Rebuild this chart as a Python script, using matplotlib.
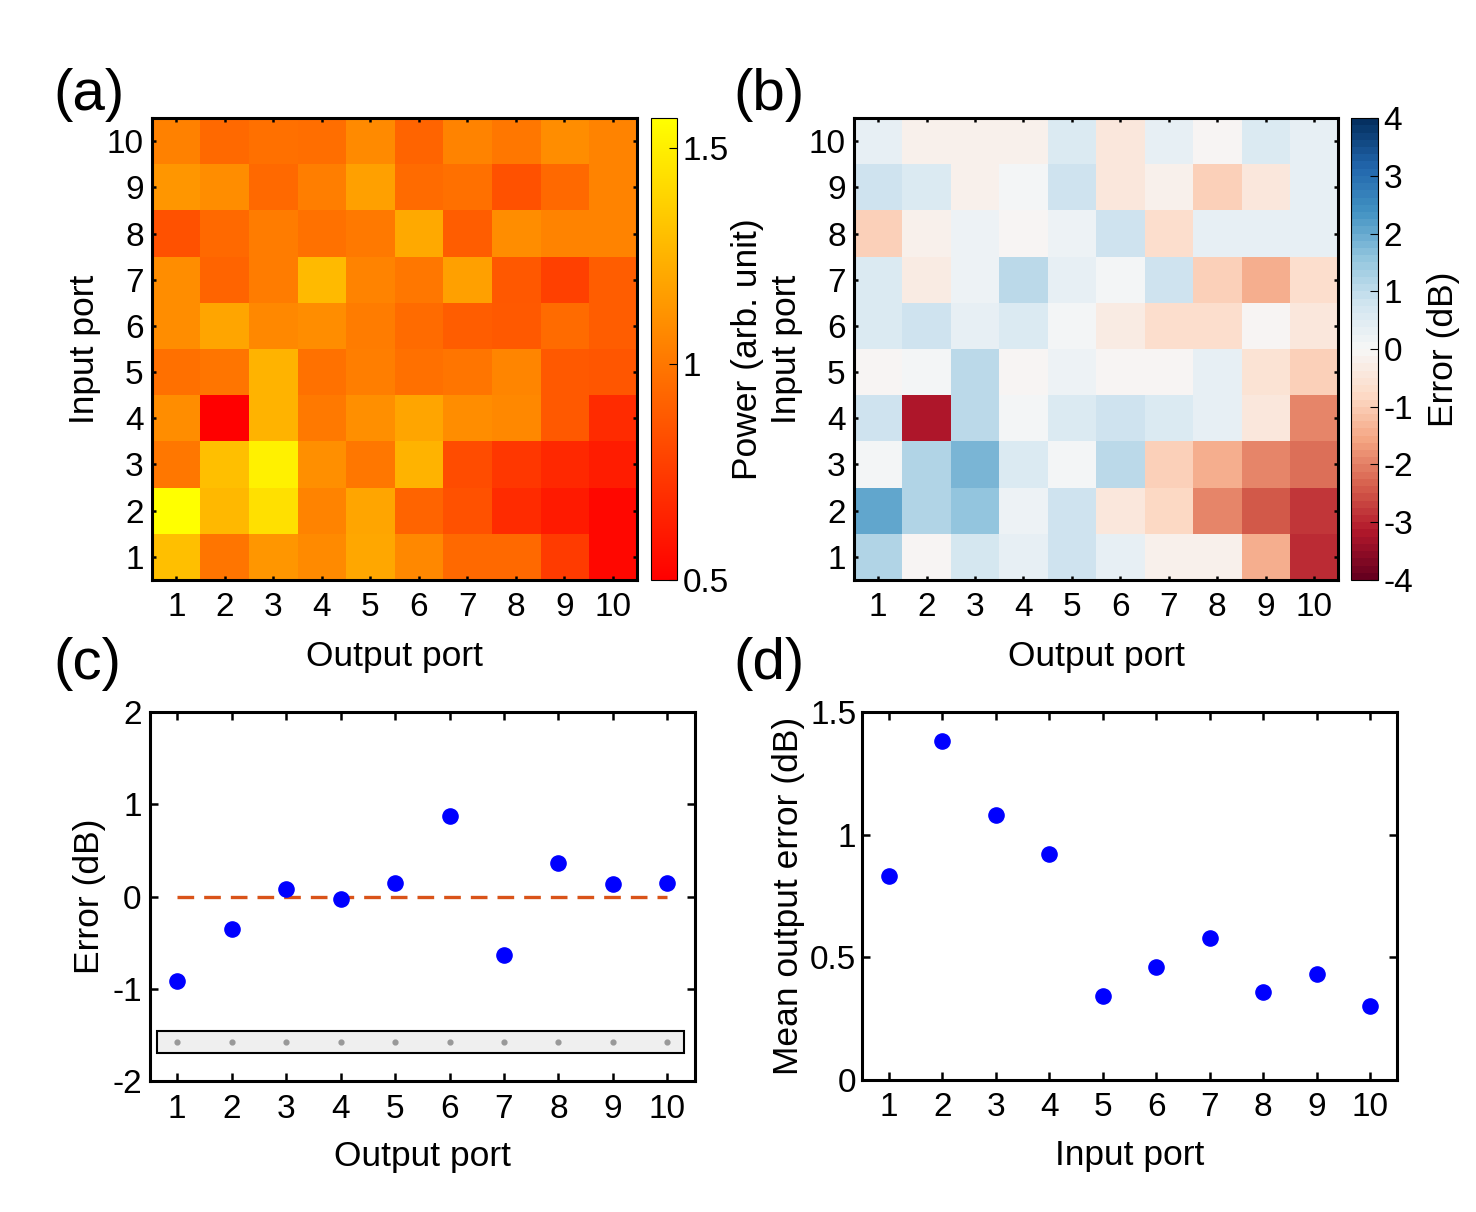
import numpy as np
import matplotlib
matplotlib.use("Agg")
import matplotlib.pyplot as plt
from matplotlib.patches import Rectangle

plt.rcParams['font.family'] = ['Liberation Sans', 'DejaVu Sans']
plt.rcParams['axes.unicode_minus'] = False

ports = np.arange(1, 11)

# (a) measured power, rows = input port 1..10, cols = output port 1..10
power = np.array([
    [1.30, 0.99, 1.13, 1.08, 1.20, 1.07, 0.94, 0.94, 0.75, 0.53],
    [1.57, 1.27, 1.44, 1.05, 1.19, 0.92, 0.84, 0.68, 0.61, 0.53],
    [1.00, 1.30, 1.51, 1.10, 1.00, 1.25, 0.82, 0.73, 0.67, 0.62],
    [1.09, 0.50, 1.25, 1.01, 1.10, 1.19, 1.09, 1.07, 0.88, 0.68],
    [0.97, 0.99, 1.25, 0.98, 1.03, 0.97, 0.99, 1.06, 0.88, 0.86],
    [1.09, 1.19, 1.07, 1.09, 1.02, 0.95, 0.89, 0.88, 0.95, 0.89],
    [1.09, 0.92, 1.02, 1.28, 1.05, 1.00, 1.17, 0.87, 0.77, 0.89],
    [0.84, 0.94, 1.02, 0.98, 1.01, 1.21, 0.89, 1.09, 1.05, 1.05],
    [1.13, 1.09, 0.94, 1.03, 1.17, 0.95, 0.97, 0.84, 0.94, 1.05],
    [1.04, 0.94, 0.97, 0.96, 1.08, 0.92, 1.05, 1.00, 1.09, 1.05],
])

# (b) error in dB, rows = input port 1..10
err = np.array([
    [1.20, -0.05, 0.70, 0.35, 0.80, 0.30, -0.15, -0.15, -1.50, -2.90],
    [2.00, 1.20, 1.55, 0.20, 0.80, -0.50, -0.85, -2.00, -2.40, -2.80],
    [0.05, 1.20, 1.85, 0.50, 0.05, 1.10, -0.95, -1.50, -1.90, -2.20],
    [0.75, -3.15, 1.10, 0.05, 0.50, 0.85, 0.50, 0.30, -0.50, -1.90],
    [-0.05, 0.10, 1.10, -0.05, 0.20, -0.05, -0.05, 0.25, -0.60, -1.00],
    [0.50, 0.80, 0.35, 0.50, 0.05, -0.30, -0.65, -0.65, -0.10, -0.50],
    [0.50, -0.35, 0.20, 1.10, 0.35, 0.00, 0.75, -0.90, -1.40, -0.70],
    [-1.00, -0.25, 0.20, -0.05, 0.20, 0.85, -0.70, 0.25, 0.25, 0.25],
    [0.75, 0.60, -0.20, 0.10, 0.75, -0.40, -0.15, -0.90, -0.40, 0.25],
    [0.25, -0.20, -0.20, -0.20, 0.50, -0.50, 0.25, -0.10, 0.50, 0.25],
])

# (c) error per output port
out_err = [-0.91, -0.35, 0.08, -0.03, 0.15, 0.87, -0.63, 0.36, 0.14, 0.15]
strip_y = -1.58

# (d) mean output error per input port
mean_err = [0.83, 1.38, 1.08, 0.92, 0.34, 0.46, 0.58, 0.36, 0.43, 0.30]

TICK = 24
LAB = 25.5

fig = plt.figure(figsize=(14.76, 12.12), dpi=100)


def style(ax):
    for s in ax.spines.values():
        s.set_linewidth(2.2)
    ax.tick_params(direction='in', top=True, right=True, labelsize=TICK,
                   width=1.8, length=6)
    ax.tick_params(axis='x', pad=9)
    ax.tick_params(axis='y', pad=6)


# ---- (a)
ax_a = fig.add_axes([0.103, 0.5215, 0.3286, 0.381])
im_a = ax_a.imshow(power, cmap='autumn', vmin=0.5, vmax=1.57, origin='lower',
                   extent=[0.5, 10.5, 0.5, 10.5], aspect='auto',
                   interpolation='nearest')
ax_a.set_xticks(ports)
ax_a.set_yticks(ports)
style(ax_a)
ax_a.tick_params(length=3)
ax_a.set_xlabel('Output port', fontsize=LAB, labelpad=12)
ax_a.set_ylabel('Input port', fontsize=LAB)
cax_a = fig.add_axes([0.441, 0.5215, 0.0176, 0.381])
cb_a = fig.colorbar(im_a, cax=cax_a, ticks=[0.5, 1, 1.5])
cb_a.ax.set_yticklabels(['0.5', '1', '1.5'])
cb_a.ax.tick_params(labelsize=TICK, direction='in', length=6, pad=4)
cb_a.outline.set_linewidth(0.8)
cb_a.set_label('Power (arb. unit)', fontsize=LAB)
cb_a.ax.yaxis.set_label_coords(3.1, 0.5)

# ---- (b)
ax_b = fig.add_axes([0.5786, 0.5215, 0.328, 0.381])
im_b = ax_b.imshow(err, cmap=plt.get_cmap('RdBu', 64), vmin=-4, vmax=4,
                   origin='lower', extent=[0.5, 10.5, 0.5, 10.5],
                   aspect='auto', interpolation='nearest')
ax_b.set_xticks(ports)
ax_b.set_yticks(ports)
style(ax_b)
ax_b.tick_params(length=3)
ax_b.set_xlabel('Output port', fontsize=LAB, labelpad=12)
ax_b.set_ylabel('Input port', fontsize=LAB)
cax_b = fig.add_axes([0.9153, 0.5215, 0.0183, 0.381])
cb_b = fig.colorbar(im_b, cax=cax_b, ticks=np.arange(-4, 5))
cb_b.ax.tick_params(labelsize=TICK, direction='in', length=6, pad=4)
cb_b.outline.set_linewidth(0.8)
cb_b.set_label('Error (dB)', fontsize=LAB)
cb_b.ax.yaxis.set_label_coords(2.8, 0.5)

# ---- (c)
ax_c = fig.add_axes([0.1016, 0.108, 0.369, 0.3045])
ax_c.plot([1, 10], [0, 0], ls=(0, (5, 3)), color='#d95319', lw=2.4, zorder=1)
ax_c.scatter(ports, out_err, s=120, color='#0000ff', zorder=3)
ax_c.add_patch(Rectangle((0.63, -1.69), 9.68, 0.23, facecolor='#efefef',
                         edgecolor='black', lw=1.5, zorder=2))
ax_c.scatter(ports, [strip_y] * 10, s=12, color='#999999', zorder=3)
ax_c.set_xlim(0.5, 10.5)
ax_c.set_ylim(-2, 2)
ax_c.set_xticks(ports)
ax_c.set_yticks([-2, -1, 0, 1, 2])
style(ax_c)
ax_c.set_xlabel('Output port', fontsize=LAB, labelpad=11)
ax_c.set_ylabel('Error (dB)', fontsize=LAB)

# ---- (d)
ax_d = fig.add_axes([0.584, 0.109, 0.3625, 0.3036])
ax_d.scatter(ports, mean_err, s=120, color='#0000ff', zorder=3)
ax_d.set_xlim(0.5, 10.5)
ax_d.set_ylim(0, 1.5)
ax_d.set_xticks(ports)
ax_d.set_yticks([0, 0.5, 1, 1.5])
ax_d.set_yticklabels(['0', '0.5', '1', '1.5'])
style(ax_d)
ax_d.tick_params(axis='y', pad=4)
ax_d.set_xlabel('Input port', fontsize=LAB, labelpad=11)
ax_d.set_ylabel('Mean output error (dB)', fontsize=LAB)

# panel letters
for x, y, t in [(0.036, 0.922, '(a)'), (0.497, 0.922, '(b)'),
                (0.036, 0.452, '(c)'), (0.497, 0.452, '(d)')]:
    fig.text(x, y, t, fontsize=42, va='center')

fig.savefig('out.png', dpi=100)
